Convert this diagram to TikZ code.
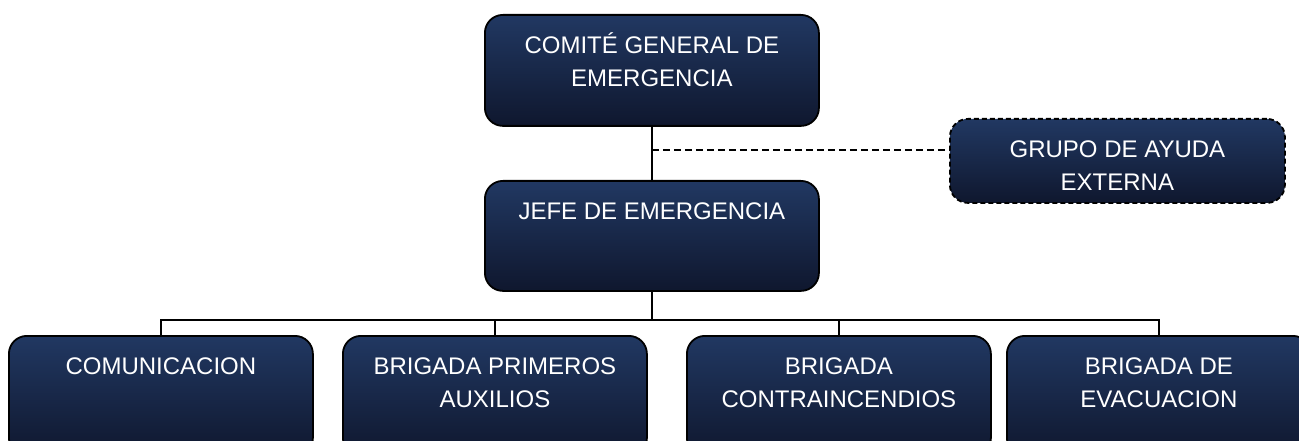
\documentclass[tikz,border=0pt]{standalone}
\usepackage{fontspec}
\setmainfont{Liberation Sans}
\usetikzlibrary{calc}
\definecolor{boxtop}{RGB}{33,56,98}
\definecolor{boxbot}{RGB}{15,23,46}
\newcommand{\bxt}[3]{\parbox[c][#2][t]{#1}{\centering\rule{0pt}{39pt}#3}}
\tikzset{
  box/.style={rounded corners=18pt, draw=black, line width=1.8pt,
    top color=boxtop, bottom color=boxbot, inner sep=0pt, text=white,
    font=\fontsize{24}{32.5}\selectfont, anchor=north west},
  extbox/.style={box, dash pattern=on 5pt off 3pt},
  conn/.style={draw=black, line width=1.8pt},
  dconn/.style={draw=black, line width=1.8pt, dash pattern=on 7pt off 4pt}
}
\begin{document}
\begin{tikzpicture}[x=1pt,y=-1pt]
\useasboundingbox (0,0) rectangle (1299,441);
\clip (0,0) rectangle (1299,441);
\node[box] (comite) at (484,14) {\bxt{334pt}{111pt}{COMITÉ GENERAL DE\\EMERGENCIA}};
\node[box] (jefe) at (484,180) {\bxt{334pt}{110pt}{JEFE DE EMERGENCIA}};
\node[extbox] (grupo) at (949,118) {\bxt{335pt}{84pt}{GRUPO DE AYUDA\\EXTERNA}};
\node[box] (b1) at (8,335) {\bxt{304pt}{120pt}{COMUNICACION}};
\node[box] (b2) at (342,335) {\bxt{304pt}{120pt}{BRIGADA PRIMEROS\\AUXILIOS}};
\node[box] (b3) at (686,335) {\bxt{304pt}{120pt}{BRIGADA\\CONTRAINCENDIOS}};
\node[box] (b4) at (1006,335) {\bxt{304pt}{120pt}{BRIGADA DE\\EVACUACION}};
\coordinate (junc) at ($(comite.south)+(0,23)$);
\coordinate (bus) at ($(jefe.south)+(0,28)$);
\draw[conn] (comite.south) -- (jefe.north);
\draw[dconn] (junc) -- (junc -| grupo.west);
\draw[conn] (jefe.south) -- (bus);
\draw[conn] (b1.north) |- (bus) -| (b4.north);
\draw[conn] (b2.north) -- (b2.north |- bus);
\draw[conn] (b3.north) -- (b3.north |- bus);
\end{tikzpicture}
\end{document}
